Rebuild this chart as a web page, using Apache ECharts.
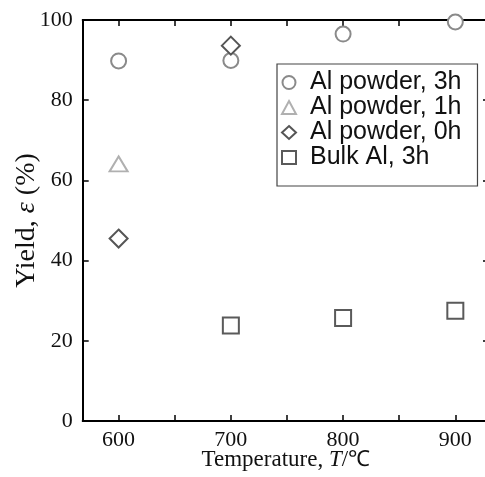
<!DOCTYPE html>
<html><head><meta charset="utf-8">
<script src="https://cdn.jsdelivr.net/npm/echarts@6/dist/echarts.min.js"></script>
<style>html,body{margin:0;padding:0;background:#fff}#c{width:485px;height:477px}</style>
</head><body><div id="c"></div>
<script>
const seriesNames = ['Al powder, 3h', 'Al powder, 1h', 'Al powder, 0h', 'Bulk Al, 3h'];
const temps3h = [600, 700, 800, 900];
const yield3h = [89.8, 89.9, 96.5, 99.5];
const temps1h = [600];
const yield1h = [64.1];
const temps0h = [600, 700];
const yield0h = [45.5, 93.6];
const tempsBulk = [700, 800, 900];
const yieldBulk = [23.8, 25.7, 27.5];
const xTickLabels = [600, 700, 800, 900];
const xTicks = [600, 650, 700, 750, 800, 850, 900];
const yTicks = [0, 20, 40, 60, 80, 100];

const zip = (xs, ys) => xs.map((x, i) => [x, ys[i]]);
const serif = '"Liberation Serif", "DejaVu Serif", serif';
const sans = '"Liberation Sans", Arial, sans-serif';

const styles = [
  {symbol: 'circle', size: 15, color: '#8a8a8a'},
  {symbol: 'triangle', size: [18, 15], color: '#b0b0b0'},
  {symbol: 'diamond', size: 18, color: '#555555'},
  {symbol: 'rect', size: 16, color: '#5a5a5a'}
];
const datas = [zip(temps3h, yield3h), zip(temps1h, yield1h), zip(temps0h, yield0h), zip(tempsBulk, yieldBulk)];

const axisLine = {show: true, onZero: false, lineStyle: {color: '#000', width: 2}};
const chart = echarts.init(document.getElementById('c'), null, {renderer: 'canvas'});
chart.setOption({
  animation: false,
  backgroundColor: '#fff',
  grid: {left: 82.7, top: 20, width: 406.3, height: 401, containLabel: false, outerBoundsMode: 'none'},
  xAxis: [{
    type: 'value', min: 568, max: 930, position: 'bottom',
    axisLine: axisLine,
    axisTick: {show: true, inside: true, length: 6, customValues: xTicks, lineStyle: {color: '#000', width: 1.5}},
    axisLabel: {customValues: xTickLabels, fontFamily: serif, fontSize: 22, color: '#111', margin: 8},
    splitLine: {show: false},
    name: 'Temperature, {i|T}/{s|℃}', nameLocation: 'middle', nameGap: 27, nameMoveOverlap: false,
    nameTextStyle: {fontFamily: serif, fontSize: 23, color: '#111',
      rich: {i: {fontFamily: serif, fontStyle: 'italic', fontSize: 23, color: '#111'},
             s: {fontFamily: sans, fontSize: 22, color: '#111'}}}
  }, {
    type: 'value', min: 568, max: 930, position: 'top',
    axisLine: axisLine,
    axisTick: {show: true, inside: true, length: 6, customValues: xTicks, lineStyle: {color: '#000', width: 1.5}},
    axisLabel: {show: false}, splitLine: {show: false}
  }],
  yAxis: [{
    type: 'value', min: 0, max: 100, interval: 20, position: 'left',
    axisLine: axisLine,
    axisTick: {show: true, inside: true, length: 6, lineStyle: {color: '#000', width: 1.5}},
    axisLabel: {fontFamily: serif, fontSize: 22, color: '#111', margin: 10},
    splitLine: {show: false},
    name: 'Yield, {i|ε} (%)', nameLocation: 'middle', nameGap: 42, nameMoveOverlap: false,
    nameTextStyle: {fontFamily: serif, fontSize: 28, color: '#111',
      rich: {i: {fontFamily: serif, fontStyle: 'italic', fontSize: 28, color: '#111'}}}
  }, {
    type: 'value', min: 0, max: 100, interval: 20, position: 'right',
    axisLine: {show: false},
    axisTick: {show: true, inside: true, length: 6, lineStyle: {color: '#000', width: 1.5}},
    axisLabel: {show: false}, splitLine: {show: false}
  }],
  legend: {
    orient: 'vertical', left: 277, top: 64,
    backgroundColor: '#fff', borderColor: '#444', borderWidth: 1.2,
    padding: [6, 16, 16, 4], itemGap: 0, itemWidth: 14, itemHeight: 13,
    data: seriesNames,
    textStyle: {fontFamily: sans, fontSize: 25, color: '#111', lineHeight: 25, padding: [0, 0, 0, 9]}
  },
  series: seriesNames.map((n, i) => ({
    name: n, type: 'scatter', data: datas[i],
    symbol: styles[i].symbol, symbolSize: styles[i].size,
    itemStyle: {color: '#fff', borderColor: styles[i].color, borderWidth: 2, opacity: 1},
    z: 3
  }))
});
</script></body></html>
